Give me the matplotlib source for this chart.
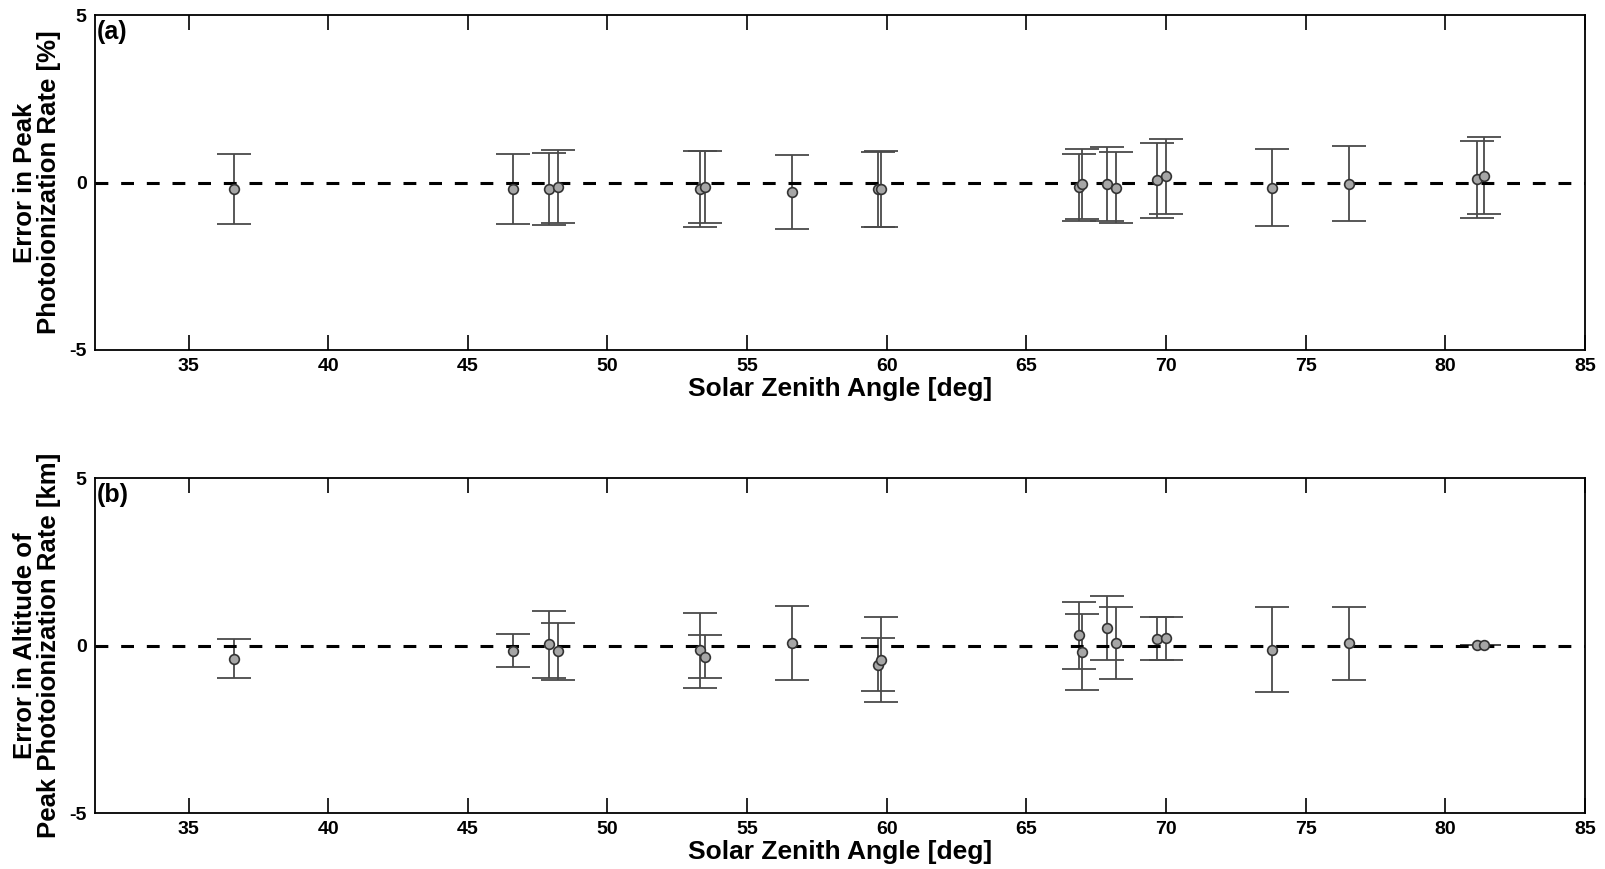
import matplotlib
matplotlib.use("Agg")
import matplotlib.pyplot as plt

plt.rcParams['font.family'] = ['Liberation Sans', 'DejaVu Sans']
plt.rcParams['font.weight'] = 'bold'
plt.rcParams['axes.unicode_minus'] = False

# Solar zenith angles [deg]
sza = [36.62, 46.62, 47.90, 48.22, 53.33, 53.50, 56.60, 59.70, 59.79,
       66.90, 67.00, 67.88, 68.20, 69.67, 69.99, 73.79, 76.55, 81.14, 81.38]

# Panel (a): error in peak photoionization rate [%]
err_a = [-0.20, -0.20, -0.20, -0.12, -0.20, -0.14, -0.29, -0.20, -0.20,
         -0.14, -0.05, -0.05, -0.15, 0.06, 0.18, -0.15, -0.04, 0.10, 0.20]
unc_a = [1.04, 1.05, 1.08, 1.10, 1.13, 1.08, 1.10, 1.12, 1.14,
         1.00, 1.04, 1.10, 1.05, 1.11, 1.13, 1.14, 1.12, 1.15, 1.15]

# Panel (b): error in altitude of peak photoionization rate [km]
err_b = [-0.39, -0.15, 0.03, -0.17, -0.14, -0.34, 0.08, -0.57, -0.42,
         0.30, -0.20, 0.53, 0.08, 0.20, 0.21, -0.12, 0.06, 0.01, 0.01]
unc_b = [0.58, 0.48, 1.00, 0.85, 1.12, 0.64, 1.10, 0.80, 1.28,
         1.00, 1.14, 0.95, 1.07, 0.64, 0.64, 1.27, 1.08, 0.0, 0.0]

xticks = [35, 40, 45, 50, 55, 60, 65, 70, 75, 80, 85]
yticks = [-5, 0, 5]

panels = [
    (err_a, unc_a, "Error in Peak\nPhotoionization Rate [%]", "(a)"),
    (err_b, unc_b, "Error in Altitude of\nPeak Photoionization Rate [km]", "(b)"),
]

fig = plt.figure(figsize=(16.05, 8.69), dpi=100)
W, H = 1605, 869
left, right = 95, 1585
tops = [15, 478]
bots = [350, 813]

for i, (vals, unc, ylab, tag) in enumerate(panels):
    ax = fig.add_axes([left / W, 1 - bots[i] / H, (right - left) / W, (bots[i] - tops[i]) / H])
    ax.set_xlim(31.65, 85)
    ax.set_ylim(-5, 5)
    ax.axhline(0, color='black', lw=2.2, ls=(0, (4.2, 4.2)), zorder=2.5)
    ax.errorbar(sza, vals, yerr=unc, fmt='none', ecolor='#4a4a4a',
                elinewidth=1.3, capsize=12.5, capthick=1.3, zorder=2)
    ax.plot(sza, vals, 'o', ms=7, mfc='#a6a6a6', mec='#333333', mew=1.2,
            ls='none', zorder=3)
    ax.set_xticks(xticks)
    ax.set_yticks(yticks)
    ax.tick_params(axis='x', direction='in', length=11, width=1.2, top=True,
                   labelsize=14, pad=6)
    ax.tick_params(axis='y', direction='in', length=0, labelsize=14, pad=6)
    for lab in ax.get_xticklabels() + ax.get_yticklabels():
        lab.set_fontweight('bold')
    for sp in ax.spines.values():
        sp.set_linewidth(1.3)
    ax.set_xlabel("Solar Zenith Angle [deg]", fontsize=19, fontweight='bold', labelpad=1)
    cy = 1 - (tops[i] + bots[i]) / 2 / H
    fig.text(37 / W, cy, ylab, rotation=90, ha='center', va='center',
             multialignment='center', fontsize=18.5, fontweight='bold',
             linespacing=0.95)
    ax.text(0.001, 0.985, tag, transform=ax.transAxes, ha='left', va='top',
            fontsize=18, fontweight='bold')

fig.savefig("out.png", dpi=100)
